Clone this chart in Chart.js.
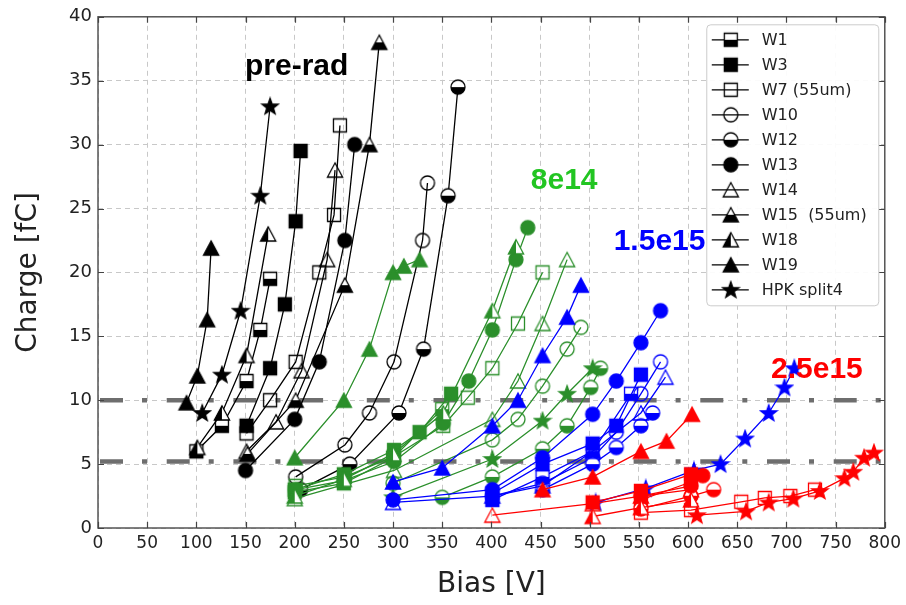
<!DOCTYPE html>
<html><head><meta charset="utf-8">
<script src="https://cdn.jsdelivr.net/npm/chart.js@4/dist/chart.umd.min.js"></script>
<style>html,body{margin:0;padding:0;background:#fff;}canvas{display:block;}</style>
</head><body>
<canvas id="c" width="906" height="605"></canvas>
<script>
// ---------------- data: [bias V, charge fC] ----------------
const sensorNames = ['W1','W3','W7 (55um)','W10','W12','W13','W14','W15  (55um)','W18','W19','HPK split4'];
const fluenceLabels = ['pre-rad','8e14','1.5e15','2.5e15'];
const xTicks = [0,50,100,150,200,250,300,350,400,450,500,550,600,650,700,750,800];
const yTicks = [0,5,10,15,20,25,30,35,40];
const thresholds = [10, 5.2];

// pre-rad
const pre_W1  = [[100,6],[126,8],[151,11.5],[165,15.5],[175,19.5]];
const pre_W3  = [[151,8],[175,12.5],[190,17.5],[201,24],[206,29.5]];
const pre_W7  = [[151,7.4],[175,10],[201,13],[225,20],[240,24.5],[246,31.5]];
const pre_W10 = [[201,4],[251,6.5],[276,9],[301,13],[330,22.5],[335,27]];
const pre_W12 = [[206,3],[256,5],[306,9],[331,14],[356,26],[366,34.5]];
const pre_W13 = [[150,4.5],[200,8.5],[225,13],[251,22.5],[261,30]];
const pre_W14 = [[151,6],[181,8.3],[207,12.3],[233,21],[241,28]];
const pre_W15 = [[152,5.8],[201,10],[251,19],[276,30],[286,38]];
const pre_W18 = [[101,6.3],[126,9],[151,13.5],[173,23]];
const pre_W19 = [[90,9.8],[101,11.9],[111,16.3],[115,21.9]];
const pre_HPK = [[106,9],[126,12],[145,17],[165,26],[175,33]];

// 8e14
const g_W1  = [[200,2.8],[250,3.5],[300,5.5],[350,9.3]];
const g_W3  = [[200,3],[250,4.2],[301,6.1],[327,7.5],[359,10.5]];
const g_W7  = [[201,3.3],[251,4],[301,5.6],[351,8],[376,10.2],[401,12.5],[427,16],[452,20]];
const g_W10 = [[300,3.5],[401,6.9],[427,8.5],[452,11.1],[477,14],[491,15.7]];
const g_W12 = [[350,2.4],[401,4],[452,6.2],[477,8],[501,11],[511,12.5]];
const g_W13 = [[201,3],[250,3.7],[301,5.2],[351,8.2],[377,11.5],[401,15.5],[425,21],[437,23.5]];
const g_W14 = [[200,2.3],[301,4.5],[401,8.5],[427,11.5],[452,16],[477,21]];
const g_W18 = [[200,2.5],[250,3.8],[300,5.8],[351,9],[401,17],[425,22]];
const g_W19 = [[200,5.5],[250,10],[276,14],[300,20],[311,20.5],[327,21]];
const g_HPK = [[300,2.4],[401,5.4],[452,8.4],[477,10.5],[503,12.5]];

// 1.5e15
const b_W1  = [[401,2.2],[452,4],[503,6],[542,10.5]];
const b_W3  = [[401,2.7],[452,5],[503,6.6],[527,8],[552,12]];
const b_W10 = [[401,2.5],[452,3.5],[503,5.5],[527,7.5],[552,10.5],[572,13]];
const b_W12 = [[452,3],[503,5],[527,6.3],[552,8],[564,9]];
const b_W13 = [[300,2.2],[401,3],[452,5.5],[503,8.9],[527,11.5],[552,14.5],[572,17]];
const b_W14 = [[300,2],[401,2.5],[452,3.3],[503,6],[552,9],[577,11.8]];
const b_W19 = [[300,3.6],[350,4.7],[401,8],[427,10],[452,13.5],[477,16.5],[491,19]];
const b_HPK = [[506,2],[557,3.1],[606,4.5],[633,5],[658,7],[682,9],[698,11],[708,12.5]];

// 2.5e15
const r_W1  = [[552,2.2],[603,3.6]];
const r_W3  = [[503,2],[552,2.9],[603,4.2]];
const r_W7  = [[552,1.2],[603,1.4],[654,2.05],[678,2.35],[704,2.5],[729,3.0]];
const r_W12 = [[552,1.5],[603,2.5],[626,3]];
const r_W13 = [[552,2.5],[603,3.3],[615,4.1]];
const r_W14 = [[401,1],[503,1.9],[552,2.5],[603,3]];
const r_W18 = [[503,0.9],[552,1.6],[603,2.2]];
const r_W19 = [[452,3],[503,4],[552,6],[578,6.8],[604,8.9]];
const r_HPK = [[609,1],[659,1.3],[682,2],[707,2.3],[734,2.9],[759,3.9],[768,4.4],[779,5.5],[789,5.9]];

// ---------------- styling ----------------
const MARK = {
  'W1':['square','bottom'], 'W3':['square','full'], 'W7 (55um)':['square','none'],
  'W10':['circle','none'], 'W12':['circle','bottom'], 'W13':['circle','full'],
  'W14':['triangle','none'], 'W15  (55um)':['triangle','bottom'], 'W18':['triangle','left'],
  'W19':['triangle','full'], 'HPK split4':['star','full']
};
const cache = {};
function marker(name, color) {
  const [shape, fill] = MARK[name];
  const key = shape + fill + color;
  if (cache[key]) return cache[key];
  const S = 20, m = S / 2;
  const cv = document.createElement('canvas'); cv.width = S; cv.height = S;
  const g = cv.getContext('2d');
  const path = () => {
    g.beginPath();
    if (shape === 'square') g.rect(m - 6.5, m - 6.5, 13, 13);
    else if (shape === 'circle') g.arc(m, m, 7, 0, Math.PI * 2);
    else if (shape === 'triangle') { g.moveTo(m, m - 7.2); g.lineTo(m + 7.6, m + 7); g.lineTo(m - 7.6, m + 7); g.closePath(); }
    else {
      for (let i = 0; i < 10; i++) {
        const r = i % 2 ? 3.5 : 8.6, a = -Math.PI / 2 + i * Math.PI / 5;
        const px = m + r * Math.cos(a), py = m + 0.6 + r * Math.sin(a);
        if (i) g.lineTo(px, py); else g.moveTo(px, py);
      }
      g.closePath();
    }
  };
  path();
  if (fill === 'full') { g.fillStyle = color; g.fill(); }
  else if (fill !== 'none') {
    g.fillStyle = '#fff'; g.fill();
    g.save(); g.beginPath();
    if (fill === 'bottom') g.rect(0, m, S, S - m); else g.rect(0, 0, m, S);
    g.clip(); path(); g.fillStyle = color; g.fill(); g.restore();
    path();
  }
  g.lineWidth = 1.3; g.strokeStyle = color; g.stroke();
  cache[key] = cv; return cv;
}

const groups = [
  { color: '#000000', series: [pre_W1, pre_W3, pre_W7, pre_W10, pre_W12, pre_W13, pre_W14, pre_W15, pre_W18, pre_W19, pre_HPK],
    names: sensorNames, legend: true },
  { color: '#2b8f2b', series: [g_W1, g_W3, g_W7, g_W10, g_W12, g_W13, g_W14, g_W18, g_W19, g_HPK],
    names: ['W1','W3','W7 (55um)','W10','W12','W13','W14','W18','W19','HPK split4'] },
  { color: '#0000ff', series: [b_W1, b_W3, b_W10, b_W12, b_W13, b_W14, b_W19, b_HPK],
    names: ['W1','W3','W10','W12','W13','W14','W19','HPK split4'] },
  { color: '#ff0000', series: [r_W1, r_W3, r_W7, r_W12, r_W13, r_W14, r_W18, r_W19, r_HPK],
    names: ['W1','W3','W7 (55um)','W12','W13','W14','W18','W19','HPK split4'] }
];

const datasets = [];
let idx = 0;
groups.forEach(gr => {
  gr.series.forEach((s, i) => {
    const name = gr.names[i];
    datasets.push({
      label: name,
      inLegend: !!gr.legend,
      data: s.map(p => ({ x: p[0], y: p[1] })),
      showLine: true,
      borderColor: gr.color,
      borderWidth: 1.3,
      pointStyle: marker(name, gr.color),
      pointRadius: 7,
      tension: 0,
      order: -idx
    });
    idx++;
  });
});
thresholds.forEach(t => {
  datasets.push({
    label: 'thr', inLegend: false,
    data: [{ x: 0, y: t }, { x: 800, y: t }],
    showLine: true, borderColor: '#6e6e6e', borderWidth: 4.5,
    borderDash: [23, 19, 5, 19.7], borderDashOffset: -2,
    pointRadius: 0, order: 1000
  });
});

// ---------------- plugins ----------------
const bgPlugin = {
  id: 'bg',
  beforeDraw(chart) {
    const c = chart.ctx; c.save(); c.fillStyle = '#fff'; c.fillRect(0, 0, chart.width, chart.height); c.restore();
  }
};
const framePlugin = {
  id: 'frame',
  afterDatasetsDraw(chart) {
    const { ctx, chartArea: a, scales } = chart;
    ctx.save();
    // fluence annotations
    const notes = [
      [fluenceLabels[0], 202, 36.1, '#000000'],
      [fluenceLabels[1], 474, 27.2, '#22c522'],
      [fluenceLabels[2], 571, 22.4, '#0000ff'],
      [fluenceLabels[3], 731, 12.4, '#ff0000']
    ];
    ctx.font = 'bold 30px "Liberation Sans", Arial, sans-serif';
    ctx.textAlign = 'center'; ctx.textBaseline = 'middle';
    notes.forEach(n => { ctx.fillStyle = n[3]; ctx.fillText(n[0], scales.x.getPixelForValue(n[1]), scales.y.getPixelForValue(n[2])); });
    // frame + inward ticks
    ctx.strokeStyle = '#555'; ctx.lineWidth = 1.5;
    ctx.strokeRect(a.left, a.top, a.right - a.left, a.bottom - a.top);
    ctx.lineWidth = 1.2; ctx.strokeStyle = '#444';
    ctx.beginPath();
    xTicks.forEach(v => {
      const px = Math.round(scales.x.getPixelForValue(v)) + 0.5;
      ctx.moveTo(px, a.bottom); ctx.lineTo(px, a.bottom - 6);
      ctx.moveTo(px, a.top); ctx.lineTo(px, a.top + 6);
    });
    yTicks.forEach(v => {
      const py = Math.round(scales.y.getPixelForValue(v)) + 0.5;
      ctx.moveTo(a.left, py); ctx.lineTo(a.left + 6, py);
      ctx.moveTo(a.right, py); ctx.lineTo(a.right - 6, py);
    });
    ctx.stroke();
    ctx.restore();
  },
  afterDraw(chart) {
    const { ctx, chartArea: a } = chart;
    const items = chart.data.datasets.filter(d => d.inLegend);
    const x0 = a.right - 178, y0 = a.top + 8, w = 172, h = 281, r = 4;
    ctx.save();
    ctx.beginPath();
    ctx.moveTo(x0 + r, y0); ctx.lineTo(x0 + w - r, y0); ctx.quadraticCurveTo(x0 + w, y0, x0 + w, y0 + r);
    ctx.lineTo(x0 + w, y0 + h - r); ctx.quadraticCurveTo(x0 + w, y0 + h, x0 + w - r, y0 + h);
    ctx.lineTo(x0 + r, y0 + h); ctx.quadraticCurveTo(x0, y0 + h, x0, y0 + h - r);
    ctx.lineTo(x0, y0 + r); ctx.quadraticCurveTo(x0, y0, x0 + r, y0); ctx.closePath();
    ctx.fillStyle = 'rgba(255,255,255,0.92)'; ctx.fill();
    ctx.strokeStyle = '#cccccc'; ctx.lineWidth = 1; ctx.stroke();
    items.forEach((d, i) => {
      const y = y0 + 15 + i * 25;
      ctx.strokeStyle = '#000'; ctx.lineWidth = 1.3;
      ctx.beginPath(); ctx.moveTo(x0 + 5, y); ctx.lineTo(x0 + 42, y); ctx.stroke();
      const im = d.pointStyle;
      ctx.drawImage(im, x0 + 24 - im.width / 2, y - im.height / 2);
      ctx.fillStyle = '#222'; ctx.font = '16px "DejaVu Sans"';
      ctx.textAlign = 'left'; ctx.textBaseline = 'middle';
      ctx.fillText(d.label, x0 + 55, y + 1);
    });
    ctx.restore();
  }
};

new Chart(document.getElementById('c'), {
  type: 'scatter',
  data: { datasets },
  options: {
    responsive: false, animation: false, devicePixelRatio: 1,
    layout: { padding: { top: 14, right: 20, left: 0, bottom: 0 } },
    plugins: { legend: { display: false }, tooltip: { enabled: false } },
    scales: {
      x: {
        type: 'linear', min: 0, max: 800,
        afterFit(s) { s.height = 77; },
        afterBuildTicks(s) { s.ticks = xTicks.map(v => ({ value: v })); },
        ticks: { font: { family: 'DejaVu Sans', size: 17 }, color: '#222', padding: 5, maxRotation: 0, autoSkip: false },
        grid: { color: '#c8c8c8', lineWidth: 1, drawTicks: false },
        border: { display: false, dash: [5, 4] },
        title: { display: true, text: 'Bias [V]', font: { family: 'DejaVu Sans', size: 28 }, color: '#222', padding: { top: 0, bottom: 3 } }
      },
      y: {
        type: 'linear', min: 0, max: 40,
        afterFit(s) { s.width = 98; },
        afterBuildTicks(s) { s.ticks = yTicks.map(v => ({ value: v })); },
        ticks: { font: { family: 'DejaVu Sans', size: 18 }, color: '#222', padding: 6 },
        grid: { color: '#c8c8c8', lineWidth: 1, drawTicks: false },
        border: { display: false, dash: [5, 4] },
        title: { display: true, text: 'Charge [fC]', font: { family: 'DejaVu Sans', size: 28 }, color: '#222', padding: { top: 12, bottom: 0 } }
      }
    }
  },
  plugins: [bgPlugin, framePlugin]
});
</script>
</body></html>
